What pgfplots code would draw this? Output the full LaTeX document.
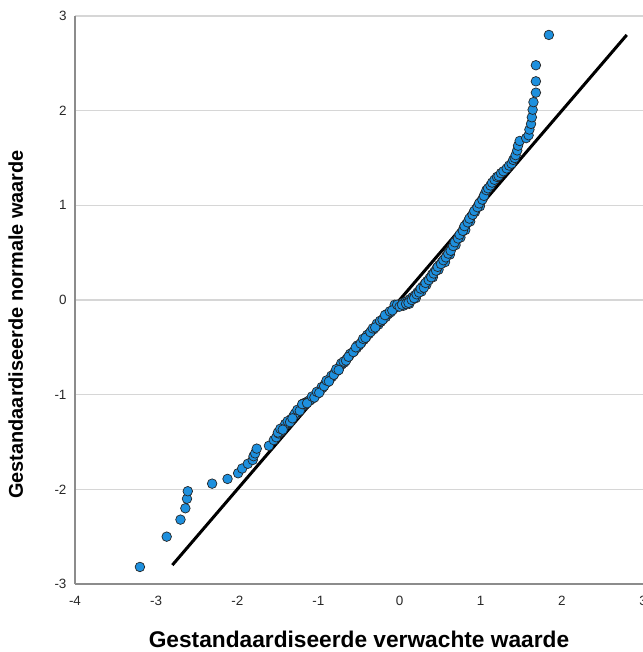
\documentclass[border=0pt]{standalone}
\usepackage{fontspec}
\setmainfont{Liberation Sans}
\usepackage{pgfplots}
\pgfplotsset{compat=1.18}

\definecolor{dotblue}{RGB}{30,144,222}
\definecolor{gridgray}{RGB}{214,214,214}
\definecolor{spinegray}{RGB}{140,140,140}
\definecolor{ticktext}{RGB}{40,40,40}

\begin{document}
\begin{tikzpicture}
\begin{axis}[
    scale only axis,
    width=568bp, height=568bp,
    xmin=-4, xmax=3, ymin=-3, ymax=3,
    xtick={-4,-3,...,3}, ytick={-3,-2,...,3},
    major tick length=0pt,
    axis x line*=bottom, axis y line*=left,
    axis line style={-, spinegray, line width=1.5bp},
    ymajorgrids,
    major grid style={gridgray, line width=1.5bp},
    /pgf/number format/assume math mode=true,
    tick label style={font=\fontsize{13.5}{15}\selectfont, text=ticktext},
    xticklabel style={yshift=-9bp},
    yticklabel style={xshift=-5bp},
    xlabel={\textbf{Gestandaardiseerde verwachte waarde}},
    ylabel={\textbf{Gestandaardiseerde normale waarde}},
    xlabel style={font=\fontsize{22.8}{26}\selectfont,
        at={(axis description cs:0.5,0)}, anchor=base, yshift=-63bp},
    ylabel style={font=\fontsize{20}{24}\selectfont,
        at={(axis description cs:0,0.457)}, anchor=base, yshift=52bp},
    clip=false,
]
% points
\addplot[only marks, mark=*, mark size=4.8bp,
    mark options={fill=dotblue, draw=black!85, line width=0.7bp}]
coordinates {
(-3.20,-2.82) (-2.87,-2.50) (-2.70,-2.32) (-2.64,-2.20) (-2.62,-2.10) (-2.61,-2.02)
(-2.31,-1.94) (-2.12,-1.89) (-1.99,-1.83) (-1.94,-1.78) (-1.87,-1.73) (-1.81,-1.69)
(-1.80,-1.65) (-1.78,-1.62) (-1.76,-1.57) (-1.61,-1.54)
(-1.55,-1.48) (-1.52,-1.45) (-1.49,-1.41) (-1.46,-1.39) (-1.43,-1.35) (-1.40,-1.32)
(-1.37,-1.30) (-1.34,-1.26) (-1.31,-1.23) (-1.28,-1.21) (-1.25,-1.18) (-1.22,-1.15)
(-1.19,-1.12) (-1.16,-1.10) (-1.13,-1.07) (-1.10,-1.06) (-1.07,-1.04) (-1.04,-1.01)
(-1.01,-0.99) (-0.98,-0.96) (-0.95,-0.93) (-0.92,-0.89) (-0.89,-0.87) (-0.86,-0.84)
(-0.83,-0.81) (-0.80,-0.77) (-0.77,-0.75) (-0.74,-0.71) (-0.71,-0.68) (-0.68,-0.66)
(-0.65,-0.62) (-0.62,-0.59) (-0.59,-0.56) (-0.56,-0.54) (-0.53,-0.51) (-0.50,-0.48)
(-0.47,-0.45) (-0.44,-0.42) (-0.41,-0.39) (-0.38,-0.36) (-0.35,-0.33) (-0.32,-0.31)
(-0.29,-0.28) (-0.26,-0.26) (-0.23,-0.23) (-0.20,-0.20) (-0.17,-0.18) (-0.14,-0.15)
(-0.11,-0.13) (-0.08,-0.10) (-0.05,-0.08) (-0.02,-0.06) (0.01,-0.04) (0.04,-0.03)
(0.07,-0.02) (0.10,-0.01) (0.13,0.01) (0.16,0.03) (0.19,0.05) (0.22,0.08)
(0.25,0.11) (0.28,0.14) (0.31,0.17) (0.34,0.20) (0.37,0.23) (0.40,0.27)
(0.43,0.30) (0.46,0.34) (0.49,0.37) (0.52,0.40) (0.55,0.43) (0.58,0.47)
(0.61,0.51) (0.64,0.55) (0.67,0.59) (0.70,0.63) (0.73,0.67) (0.76,0.71)
(0.79,0.76) (0.82,0.80) (0.85,0.84) (0.88,0.88) (0.91,0.92) (0.94,0.96)
(0.97,1.00) (1.00,1.04) (1.03,1.08) (1.05,1.12)
(-1.50,-1.40) (-1.41,-1.31) (-1.29,-1.20) (-1.18,-1.09) (-1.11,-1.06) (-0.96,-0.92)
(-0.84,-0.80) (-0.72,-0.67) (-0.61,-0.57) (-0.52,-0.48) (-0.40,-0.37) (-0.28,-0.25)
(-0.16,-0.15) (-0.06,-0.05) (0.05,-0.06) (0.12,-0.04) (0.20,0.02) (0.27,0.09)
(0.33,0.16) (0.41,0.24) (0.48,0.32) (0.56,0.40) (0.62,0.48) (0.69,0.58)
(0.75,0.66) (0.81,0.74) (0.87,0.83) (0.93,0.93) (0.99,0.99)
(-1.47,-1.36) (-1.44,-1.37) (-1.38,-1.28) (-1.35,-1.29) (-1.32,-1.25) (-1.26,-1.16)
(-1.23,-1.17) (-1.20,-1.10) (-1.14,-1.09) (-1.08,-1.02) (-1.05,-1.03) (-1.02,-0.97)
(-0.99,-0.98) (-0.93,-0.91) (-0.90,-0.85) (-0.87,-0.86) (-0.81,-0.79) (-0.78,-0.73)
(-0.75,-0.74) (-0.69,-0.65) (-0.66,-0.64) (-0.63,-0.60) (-0.57,-0.55) (-0.54,-0.50)
(-0.48,-0.46) (-0.45,-0.41) (-0.42,-0.40) (-0.36,-0.34) (-0.33,-0.30) (-0.30,-0.29)
(-0.24,-0.22) (-0.21,-0.21) (-0.18,-0.16) (-0.12,-0.12) (-0.09,-0.11) (-0.03,-0.05)
(0.00,-0.07) (0.03,-0.05) (0.08,-0.04) (0.11,-0.03) (0.15,0.00) (0.18,0.02)
(0.21,0.06) (0.24,0.08) (0.26,0.12) (0.30,0.13) (0.32,0.18) (0.36,0.21)
(0.39,0.24) (0.42,0.28) (0.45,0.31) (0.47,0.35) (0.51,0.38) (0.54,0.42)
(0.57,0.45) (0.60,0.49) (0.63,0.52) (0.66,0.57) (0.68,0.61) (0.72,0.65)
(0.74,0.69) (0.78,0.73) (0.80,0.78) (0.84,0.82) (0.86,0.86) (0.90,0.90)
(0.92,0.94) (0.96,0.98) (0.98,1.02) (1.02,1.06) (1.04,1.10)
(1.07,1.16) (1.09,1.18) (1.12,1.21) (1.14,1.24) (1.17,1.27) (1.20,1.30)
(1.22,1.31) (1.25,1.34) (1.28,1.36) (1.32,1.39) (1.35,1.42) (1.38,1.44)
(1.40,1.48) (1.42,1.50) (1.43,1.53) (1.45,1.58) (1.46,1.63) (1.48,1.68)
(1.56,1.71) (1.59,1.74) (1.60,1.80) (1.62,1.86) (1.63,1.93) (1.64,2.01)
(1.65,2.09) (1.68,2.19) (1.68,2.31) (1.68,2.48) (1.84,2.80)
};
% reference line
\addplot[black, line width=3bp] coordinates {(-2.8,-2.8) (2.8,2.8)};
\end{axis}
\pgfresetboundingbox
\path[use as bounding box] (-75bp,-68bp) rectangle (568bp,584bp);
\end{tikzpicture}
\end{document}
